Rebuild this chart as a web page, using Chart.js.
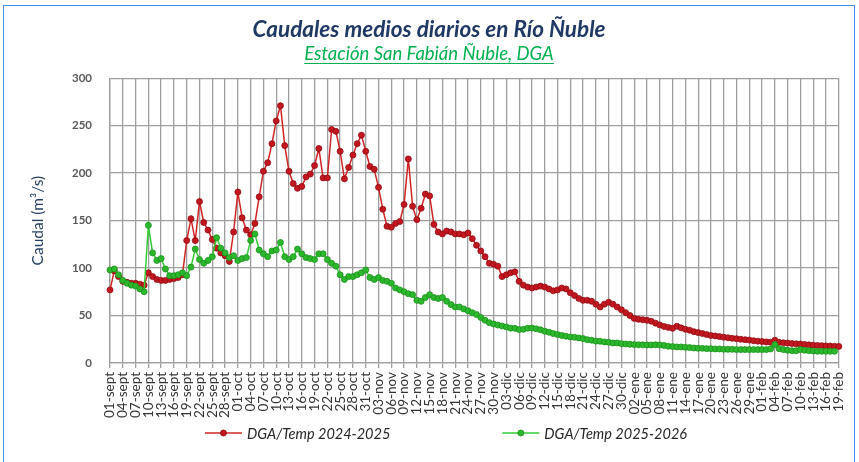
<!DOCTYPE html>
<html>
<head>
<meta charset="utf-8">
<script src="https://cdn.jsdelivr.net/npm/chart.js@4.4.1/dist/chart.umd.min.js"></script>
<style>
  html, body { margin: 0; padding: 0; background: #fff; }
  canvas { display: block; }
</style>
</head>
<body>
<canvas id="chart" width="859" height="462"></canvas>
<script>
const TITLE = 'Caudales medios diarios en Río Ñuble';
const SUBTITLE = 'Estación San Fabián Ñuble, DGA';
const Y_TITLE = 'Caudal (m³/s)';

// one label every 3 days, 01-sept .. 19-feb
const tickLabels = [
    '01-sept','04-sept','07-sept','10-sept','13-sept','16-sept','19-sept','22-sept','25-sept','28-sept',
    '01-oct','04-oct','07-oct','10-oct','13-oct','16-oct','19-oct','22-oct','25-oct','28-oct','31-oct',
    '03-nov','06-nov','09-nov','12-nov','15-nov','18-nov','21-nov','24-nov','27-nov','30-nov',
    '03-dic','06-dic','09-dic','12-dic','15-dic','18-dic','21-dic','24-dic','27-dic','30-dic',
    '02-ene','05-ene','08-ene','11-ene','14-ene','17-ene','20-ene','23-ene','26-ene','29-ene',
    '01-feb','04-feb','07-feb','10-feb','13-feb','16-feb','19-feb'
];

// daily flows (m3/s), day 0 = 01-sept
const caudal2425 = [
    77, 97, 91, 86, 85, 84, 84, 83, 82, 95,
    91, 88, 87, 87, 88, 89, 90, 93, 129, 152,
    129, 170, 148, 140, 130, 121, 116, 113, 107, 138,
    180, 153, 140, 135, 147, 175, 202, 211, 231, 255,
    271, 229, 202, 189, 184, 186, 196, 199, 208, 226,
    195, 195, 246, 244, 223, 194, 206, 219, 231, 240,
    223, 207, 204, 185, 162, 144, 143, 147, 149, 167,
    215, 165, 151, 163, 178, 176, 146, 138, 136, 139,
    138, 136, 136, 135, 137, 131, 124, 118, 112, 105,
    104, 102, 91, 93, 95, 96, 86, 82, 80, 79,
    80, 81, 80, 78, 76, 77, 79, 78, 74, 71,
    68, 66, 66, 65, 62, 59, 62, 64, 62, 59,
    56, 53, 50, 47, 46, 45.5, 45, 44, 42, 40,
    38.5, 37.5, 36.5, 38.7, 37, 35.5, 34.5, 33, 32, 31,
    30, 29, 28.5, 27.8, 27.2, 26.6, 26, 25.6, 25, 24.5,
    24.1, 23.5, 23, 22.6, 22.2, 21.9, 24, 21.8, 21.2, 21,
    20.5, 20.2, 20, 19.5, 19.1, 18.8, 18.5, 18.3, 18, 17.8,
    17.6, 17.5
];

const caudal2526 = [
    98, 99, 93, 87, 84, 82, 81, 78, 75, 145,
    116, 108, 110, 99, 92, 92, 93, 95, 92, 101,
    120, 109, 105, 108, 112, 132, 121, 116, 111, 113,
    108, 110, 111, 129, 136, 119, 115, 112, 118, 119,
    127, 112, 109, 112, 120, 115, 111, 110, 109, 115,
    115, 109, 105, 102, 93, 88, 91, 91, 93, 95,
    98, 90, 88, 90, 87, 86, 84, 79, 77, 75,
    73, 72, 66, 65, 69, 72, 69, 68, 69, 65,
    61.5, 59, 59, 57, 55, 53, 51, 48, 45, 42.5,
    41, 40, 39, 38, 36.7, 36.5, 35.2, 35.5, 36.7, 36.8,
    36, 35, 33.5, 32.4, 31, 30, 29, 28.2, 27.5, 27.1,
    26.4, 25.7, 24.6, 24, 23, 22.9, 22.2, 21.8, 21.1, 21.1,
    20.4, 20, 19.7, 19.4, 19.2, 19.1, 19, 19, 19.2, 19,
    18.5, 17.6, 17.3, 16.9, 16.9, 16.5, 16.2, 15.8, 15.5, 15.5,
    15.1, 15.1, 14.8, 14.8, 14.4, 14.4, 14.4, 14.1, 14.1, 14.1,
    14.1, 14.1, 14.1, 14.1, 14.1, 14.8, 19.4, 15.1, 14.1, 13.4,
    13, 13, 14.1, 13.4, 13, 12.7, 12.3, 12.3, 12.3, 12.3,
    12.3
];

const toPoints = arr => arr.map((v, i) => ({ x: i, y: v }));
const LAST_DAY = (tickLabels.length - 1) * 3;

const GRID = '#9e9e9e';

// underline under the subtitle
const subtitleUnderline = {
    id: 'subtitleUnderline',
    afterDraw(chart) {
        const box = chart.boxes.find(b => b.options && b.options.text === SUBTITLE);
        if (!box) return;
        const f = box.options.font;
        const pad = box.options.padding;
        const lineH = f.size * 1.2;
        const yMid = box.top + pad.top + lineH / 2;
        const ctx = chart.ctx;
        ctx.save();
        ctx.font = `italic ${f.size}px Lato`;
        const w = ctx.measureText(SUBTITLE).width;
        const cx = (box.left + box.right) / 2;
        ctx.fillStyle = box.options.color;
        ctx.fillRect(cx - w / 2, Math.round(yMid + f.size * 0.5), w, 1);
        ctx.restore();
    }
};

// legend row: line + dot + italic text, and the outer blue frame
const seriesLegend = {
    id: 'seriesLegend',
    afterDraw(chart) {
        const ctx = chart.ctx;
        const y = chart.height - 29;
        const sym = 37, gap = 5, between = 112;
        ctx.save();
        ctx.font = 'italic 14.5px Lato';
        ctx.textBaseline = 'middle';
        ctx.textAlign = 'left';
        const items = chart.data.datasets.map(ds => ({ ds, w: ctx.measureText(ds.label).width }));
        const total = items.reduce((a, it) => a + sym + gap + it.w, 0) + between * (items.length - 1);
        let x = 446 - total / 2;
        items.forEach(({ ds, w }) => {
            ctx.fillStyle = ds.borderColor;
            ctx.fillRect(x, y - 0.75, sym, 1.5);
            ctx.fillStyle = ds.pointBackgroundColor;
            ctx.strokeStyle = ds.pointBorderColor;
            ctx.lineWidth = 0.8;
            ctx.beginPath();
            ctx.arc(x + sym / 2, y, 3, 0, Math.PI * 2);
            ctx.fill();
            ctx.stroke();
            ctx.fillStyle = '#262626';
            ctx.fillText(ds.label, x + sym + gap, y + 1);
            x += sym + gap + w + between;
        });
        ctx.strokeStyle = '#3f8fef';
        ctx.lineWidth = 1;
        ctx.strokeRect(3.5, 5.5, 851, 470);
        ctx.restore();
    }
};

Chart.defaults.font.family = 'Lato';

new Chart(document.getElementById('chart'), {
    type: 'line',
    data: {
        datasets: [
            {
                label: 'DGA/Temp 2024-2025',
                data: toPoints(caudal2425),
                borderColor: '#d02424',
                borderWidth: 1.5,
                pointBackgroundColor: '#c4161e',
                pointBorderColor: '#8e0d12',
                pointBorderWidth: 0.8,
                pointRadius: 3,
                tension: 0,
                clip: false,
                order: 1
            },
            {
                label: 'DGA/Temp 2025-2026',
                data: toPoints(caudal2526),
                borderColor: '#33cc33',
                borderWidth: 1.5,
                pointBackgroundColor: '#2cb82c',
                pointBorderColor: '#1b8f1b',
                pointBorderWidth: 0.8,
                pointRadius: 3,
                tension: 0,
                clip: false,
                order: 0
            }
        ]
    },
    options: {
        responsive: false,
        animation: false,
        layout: { padding: { left: 10, right: 11, top: 6, bottom: 10 } },
        plugins: {
            legend: { display: false },
            tooltip: { enabled: false },
            title: {
                display: true,
                text: TITLE,
                color: '#1f3864',
                font: { size: 22.5, weight: 'bold', style: 'italic' },
                padding: { top: 10, bottom: 0 }
            },
            subtitle: {
                display: true,
                text: SUBTITLE,
                color: '#00b050',
                font: { size: 18.5, style: 'italic' },
                padding: { top: 0, bottom: 13 }
            }
        },
        scales: {
            x: {
                type: 'linear',
                min: 0,
                max: LAST_DAY,
                afterFit: scale => { scale.height = 89; },
                grid: { color: GRID, lineWidth: 1.3, tickLength: 5 },
                border: { display: true, color: GRID, width: 1.3 },
                ticks: {
                    stepSize: 3,
                    autoSkip: false,
                    maxRotation: 90,
                    minRotation: 90,
                    padding: 4,
                    color: '#333333',
                    font: { size: 13.5 },
                    callback: v => tickLabels[Math.round(v / 3)] || ''
                }
            },
            y: {
                min: 0,
                max: 300,
                afterFit: scale => { scale.width = 100; },
                grid: { color: GRID, lineWidth: 1.3, drawTicks: false },
                border: { display: true, color: GRID, width: 1.3 },
                ticks: {
                    stepSize: 50,
                    padding: 18,
                    color: '#595959',
                    font: { size: 11.5, weight: 'bold' }
                },
                title: {
                    display: true,
                    text: Y_TITLE,
                    color: '#243f60',
                    font: { size: 15.5 },
                    padding: { top: 19, bottom: 4 }
                }
            }
        }
    },
    plugins: [subtitleUnderline, seriesLegend]
});
</script>
</body>
</html>
